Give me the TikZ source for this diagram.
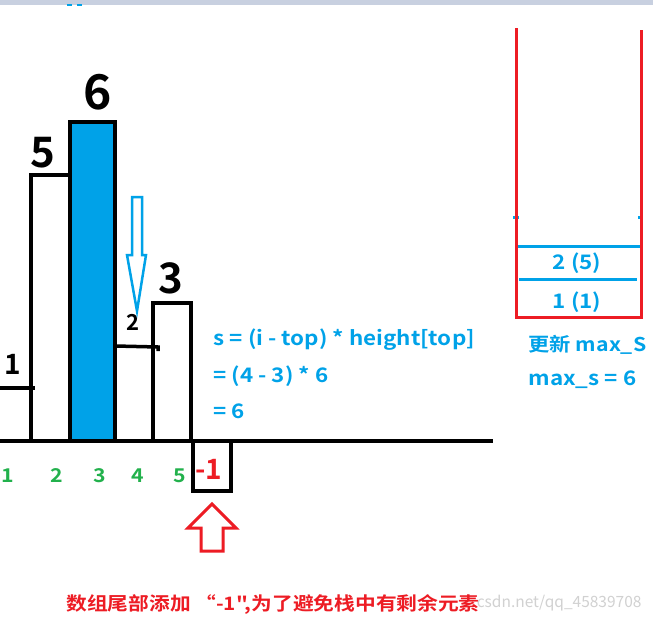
\documentclass[tikz,border=0pt]{standalone}
\usepackage{fontspec}
\newfontfamily\yahei{Noto Sans CJK SC Bold}[FakeStretch=1.12]
\newfontfamily\marker{Noto Sans CJK SC Bold}
\newfontfamily\hand{Noto Sans CJK SC}
\definecolor{paintblue}{RGB}{0,162,232}
\definecolor{paintgreen}{RGB}{34,177,76}
\definecolor{paintred}{RGB}{237,28,36}
\definecolor{topgray}{RGB}{200,208,224}
\tikzset{
  bar/.style={line width=3.5pt, draw=black},
  stackwall/.style={line width=3pt, draw=paintred},
  stackcell/.style={line width=3pt, draw=paintblue},
  handnum/.style={font=\marker\fontsize{#1}{#1}\selectfont},
  idx/.style={text=paintgreen, font=\yahei\fontsize{19}{19}\selectfont},
  calc/.style={text=paintblue, font=\yahei\fontsize{20}{20}\selectfont, anchor=west},
}
\begin{document}
\begin{tikzpicture}[x=1pt,y=-1pt]
  \useasboundingbox (0,0) rectangle (653,621);
  \fill[white] (0,0) rectangle (653,621);
  \fill[topgray] (0,0) rectangle (653,5);
  \draw[paintblue, line width=2pt] (67,5) -- (72,5) (77,5) -- (82,5);
  % bars
  \draw[bar] (0,388) -- (35,388);
  \draw[bar] (31,441) -- (31,175) -- (70,175);
  \filldraw[bar, fill=paintblue] (70,441) rectangle (115,122);
  \draw[bar] (115,346) -- (158,347) -- (158,351);
  \draw[bar] (153,441) -- (153,303) -- (191,303) -- (191,441);
  \draw[bar] (0,441) -- (493,441);
  \draw[bar] (193,441) -- (193,491) -- (231,491) -- (231,441);
  \draw node at (13,364) [handnum=28] {1};
  \draw node at (43,153) [handnum=42] {5};
  \draw node at (98,92) [handnum=48] {6};
  \draw node at (133,322) [handnum=22] {2};
  \draw node at (171,278) [handnum=42] {3};
  \draw node at (209,469) [handnum=28, text=paintred] {-1};
  % indices
  \draw node at (8,476) [idx] {1};
  \draw node at (57,476) [idx] {2};
  \draw node at (100,476) [idx] {3};
  \draw node at (138,476) [idx] {4};
  \draw node at (180,476) [idx] {5};
  % pointer to top
  \filldraw[paintblue, fill=white, line width=2.5pt]
    (132,197) -- (142,197) -- (142,255) -- (146,255) -- (137,311)
    -- (127,255) -- (132,255) -- cycle;
  \draw node at (210,340) [calc] {s = (i - top) * height[top]};
  \draw node at (210,376) [calc] {= (4 - 3) * 6};
  \draw node at (210,411) [calc] {= 6};
  % stack
  \draw[stackcell] (513,217) -- (519,217) (638,217) -- (642,217);
  \draw[stackcell] (518,246) -- (640,246);
  \draw[stackcell] (519,279) -- (637,279);
  \draw[stackwall] (516,28) -- (516,317) -- (641,317) -- (641,30);
  \draw node at (577,263) [calc, anchor=center] {2 (5)};
  \draw node at (577,302) [calc, anchor=center] {1 (1)};
  \draw node at (525,345) [calc, font=\yahei\fontsize{19}{19}\selectfont] {更新 max\_S};
  \draw node at (525,380) [calc] {max\_s = 6};
  % appended -1
  \filldraw[paintred, fill=white, line width=3pt]
    (212,504) -- (236,528) -- (223,528) -- (223,551) -- (201,551)
    -- (201,528) -- (188,528) -- cycle;
  \draw node at (645,603) [anchor=east, text=black!18,
    font=\hand\fontsize{15.5}{16}\selectfont] {csdn.net/qq\_45839708};
  \draw node at (273,605) [text=paintred, font=\yahei\fontsize{18.5}{19}\selectfont]
    {数组尾部添加 “-1",为了避免栈中有剩余元素};
\end{tikzpicture}
\end{document}
